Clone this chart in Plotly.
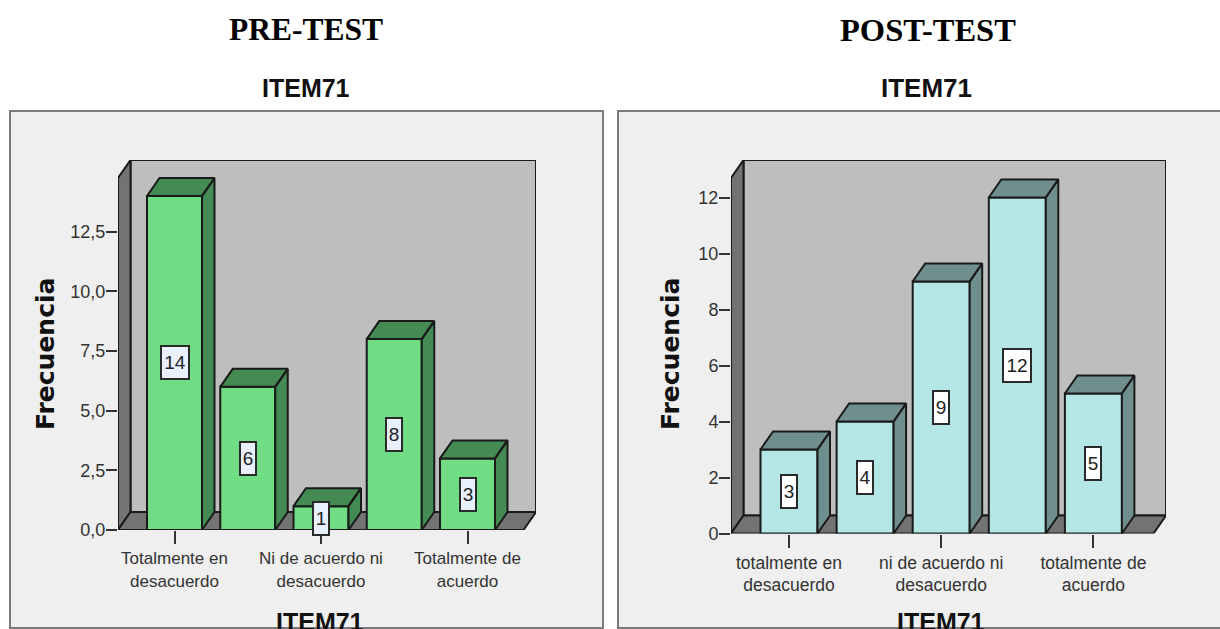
import plotly.graph_objects as go

# ---- data ----
pre_values = [14, 6, 1, 8, 3]
post_values = [3, 4, 9, 12, 5]
pre_categories = ["Totalmente en<br>desacuerdo", "En desacuerdo", "Ni de acuerdo ni<br>desacuerdo", "De acuerdo", "Totalmente de<br>acuerdo"]
post_categories = ["totalmente en<br>desacuerdo", "en desacuerdo", "ni de acuerdo ni<br>desacuerdo", "de acuerdo", "totalmente de<br>acuerdo"]
pre_yticks = [0, 2.5, 5, 7.5, 10, 12.5]
pre_yticktext = ["0,0", "2,5", "5,0", "7,5", "10,0", "12,5"]
post_yticks = [0, 2, 4, 6, 8, 10, 12]
post_yticktext = ["0", "2", "4", "6", "8", "10", "12"]
shown_ticks = [0, 2, 4]

W, H = 1220, 629
LINE = "#1a1a1a"

fig = go.Figure()
shapes, annotations, layout_axes = [], [], {}


def panel(x0, x1):
    shapes.append(dict(type="rect", xref="paper", yref="paper", layer="below",
                       x0=x0 / W, x1=x1 / W, y0=1 - 628 / H, y1=1 - 111 / H,
                       fillcolor="#EFEFEF", line=dict(color="#7a7a7a", width=2)))


def chart(idx, values, categories, yticks, yticktext, geom, front, dark, boxfill):
    c0, pitch, bw = geom["c0"], geom["pitch"], geom["bw"]
    y0px, unit = geom["y0"], geom["unit"]
    left, right, top = geom["left"], geom["right"], geom["top"]
    dx = geom["dx"] / pitch
    dy = geom["dy"] / unit
    xr = [(left - c0) / pitch, (right - c0) / pitch]
    yr = [0, (y0px - top) / unit]
    sfx = "" if idx == 1 else str(idx)
    xa, ya = "x" + sfx, "y" + sfx
    layout_axes["xaxis" + sfx] = dict(
        domain=[left / W, right / W], range=xr, anchor=ya, showgrid=False, zeroline=False, automargin=False,
        tickmode="array", tickvals=shown_ticks, ticktext=[categories[i] for i in shown_ticks],
        ticks="outside", ticklen=13, tickwidth=1.5, tickcolor="#333333",
        tickfont=dict(family="Liberation Sans", size=geom["xfont"], color="#333333"),
        tickangle=0, showline=False)
    layout_axes["yaxis" + sfx] = dict(
        domain=[1 - y0px / H, 1 - top / H], range=yr, anchor=xa, showgrid=False, zeroline=False, automargin=False,
        tickmode="array", tickvals=yticks, ticktext=yticktext,
        ticks="outside", ticklen=11, tickwidth=1.5, tickcolor="#333333", ticklabelstandoff=-3,
        tickfont=dict(family="Liberation Sans", size=18, color="#333333"),
        showline=False)

    # box walls (drawn below the traces)
    xl, xrr = xr[0], xr[1]
    ytop = yr[1]
    def poly(pts, fill):
        path = "M" + "L".join(f"{a},{b}" for a, b in pts) + "Z"
        shapes.append(dict(type="path", xref=xa, yref=ya, layer="below", path=path,
                           fillcolor=fill, line=dict(color=LINE, width=2)))
    poly([(xl + dx, dy), (xrr, dy), (xrr, ytop), (xl + dx, ytop)], "#BEBEBE")
    poly([(xl, 0), (xl + dx, dy), (xl + dx, ytop), (xl, ytop - dy)], "#737373")
    poly([(xl, 0), (xrr - dx, 0), (xrr, dy), (xl + dx, dy)], "#737373")

    xs = list(range(len(values)))
    fig.add_trace(go.Bar(x=xs, y=values, width=bw / pitch, xaxis=xa, yaxis=ya,
                         marker=dict(color=front, line=dict(color=LINE, width=2)),
                         hoverinfo="skip"))
    # side + top faces, computed from the values
    px_, py_ = [], []
    half = bw / pitch / 2
    for x, v in zip(xs, values):
        a, b = x - half, x + half
        px_ += [b, b + dx, b + dx, b, b, None]
        py_ += [0, dy, v + dy, v, 0, None]
        px_ += [a, a + dx, b + dx, b, a, None]
        py_ += [v, v + dy, v + dy, v, v, None]
    fig.add_trace(go.Scatter(x=px_, y=py_, xaxis=xa, yaxis=ya, mode="lines", fill="toself",
                             fillcolor=dark, line=dict(color=LINE, width=2), hoverinfo="skip"))

    for x, v in zip(xs, values):
        t = str(v)
        annotations.append(dict(x=x, y=v / 2, xref=xa, yref=ya, text=t, showarrow=False,
                                font=dict(family="Liberation Sans", size=19, color="#222222"),
                                bgcolor=boxfill, bordercolor="#2a2a2a", borderwidth=2,
                                width=24 if len(t) > 1 else 12, height=29, borderpad=1,
                                xanchor="center", yanchor="middle"))


panel(10, 603)
panel(618, 1226)

chart(1, pre_values, pre_categories, pre_yticks, pre_yticktext,
      dict(c0=174.5, pitch=73.25, bw=55, y0=530, unit=23.86, left=118, right=536, top=160, dx=12.5, dy=18,
           xfont=17),
      "#70DD84", "#438A53", "#E8F0FB")
chart(2, post_values, post_categories, post_yticks, post_yticktext,
      dict(c0=789, pitch=76.1, bw=57, y0=533.5, unit=28, left=731, right=1166, top=160, dx=12.5, dy=18,
           xfont=17.5),
      "#B4E6E6", "#6F8F8F", "#FFFFFF")


def text(x, y, s, font, angle=0):
    annotations.append(dict(x=x / W, y=1 - y / H, xref="paper", yref="paper", text=s, showarrow=False,
                            font=font, textangle=angle, xanchor="center", yanchor="middle"))


text(306, 30, "<b>PRE-TEST</b>", dict(family="Liberation Serif", size=31.5, color="#000000"))
text(928, 30, "<b>POST-TEST</b>", dict(family="Liberation Serif", size=32.5, color="#000000"))
text(306, 88, "<b>ITEM71</b>", dict(family="Liberation Sans", size=25, color="#111111"))
text(926, 88, "<b>ITEM71</b>", dict(family="Liberation Sans", size=26, color="#111111"))
ytitle = dict(family="DejaVu Sans", size=25, color="#111111")
text(45, 354, "<b>Frecuencia</b>", ytitle, -90)
text(670, 354, "<b>Frecuencia</b>", ytitle, -90)
# lower axis titles run past the bottom edge of the page, as in the source image
xtitle = dict(family="Liberation Sans", size=25, color="#111111")
text(320, 622, "<b>ITEM71</b>", xtitle)
text(941, 622, "<b>ITEM71</b>", xtitle)

fig.update_layout(template="none", width=W, height=H, margin=dict(l=0, r=0, t=0, b=0), autosize=False,
                  paper_bgcolor="#FFFFFF", plot_bgcolor="rgba(0,0,0,0)", showlegend=False,
                  bargap=0.25, shapes=shapes, annotations=annotations, **layout_axes)

fig.write_html("out.html", config=dict(displayModeBar=False),
               post_script="document.body.style.margin='0';document.body.style.overflow='hidden';")
